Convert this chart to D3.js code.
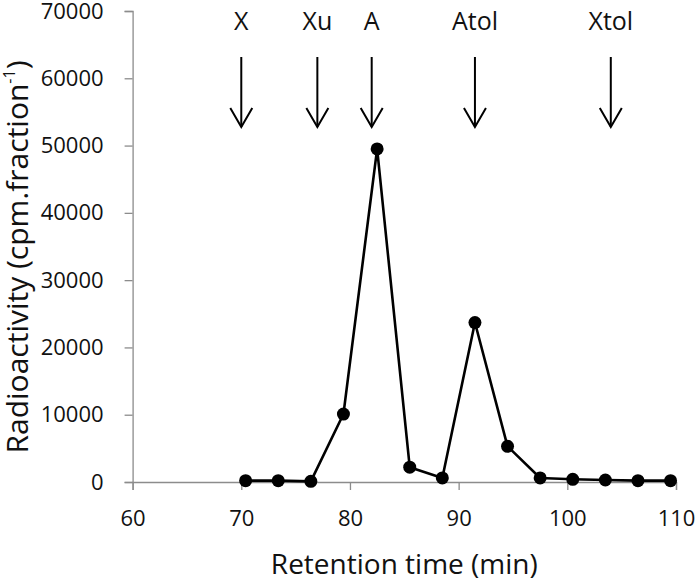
<!DOCTYPE html>
<html>
<head>
<meta charset="utf-8">
<script src="https://cdn.jsdelivr.net/npm/d3@7"></script>
<style>
  body { margin: 0; background: #fff; }
  svg { display: block; font-family: "Open Sans", sans-serif; }
</style>
</head>
<body>
<svg width="700" height="581"></svg>
<script>
// retention time (min) and radioactivity (cpm per fraction)
var times = [70.4, 73.4, 76.4, 79.4, 82.5, 85.5, 88.5, 91.5, 94.5, 97.5, 100.5, 103.5, 106.5, 109.5];
var counts = [200, 200, 100, 10100, 49500, 2200, 600, 23700, 5300, 600, 400, 300, 200, 200];

// standards marked with arrows
var markerNames = ["X", "Xu", "A", "Atol", "Xtol"];
var markerTimes = [70, 77, 82, 91.5, 104];

var xTicks = [60, 70, 80, 90, 100, 110];
var yTicks = [0, 10000, 20000, 30000, 40000, 50000, 60000, 70000];

var svg = d3.select("svg");

var x = d3.scaleLinear().domain([60, 110]).range([132.6, 676]),
    y = d3.scaleLinear().domain([0, 70000]).range([482, 11]);

var axisColor = "#8c8c8c";
var fontFam = "'Open Sans', sans-serif";

// y axis
var gy = svg.append("g")
  .attr("transform", "translate(" + x(60) + ",0)")
  .call(d3.axisLeft(y).tickValues(yTicks).tickFormat(d3.format("d")).tickSizeOuter(0).tickSize(8).tickPadding(21));
gy.select(".domain").attr("stroke", axisColor).attr("stroke-width", 1.3);
gy.selectAll(".tick line").attr("stroke", axisColor).attr("stroke-width", 1.3);
gy.selectAll(".tick text").attr("font-size", 22).attr("fill", "#111").attr("font-family", fontFam);

// x axis
var gx = svg.append("g")
  .attr("transform", "translate(0," + y(0) + ")")
  .call(d3.axisBottom(x).tickValues(xTicks).tickSizeOuter(0).tickSize(8).tickPadding(20));
gx.select(".domain").attr("stroke", axisColor).attr("stroke-width", 1.3);
gx.selectAll(".tick line").attr("stroke", axisColor).attr("stroke-width", 1.3);
gx.selectAll(".tick text").attr("font-size", 22).attr("fill", "#111").attr("font-family", fontFam);

// axis titles
svg.append("text")
  .attr("x", (x(60) + x(110)) / 2)
  .attr("y", 574)
  .attr("text-anchor", "middle")
  .attr("font-size", 28)
  .attr("fill", "#111")
  .text("Retention time (min)");

var yt = svg.append("text")
  .attr("transform", "translate(28,257) rotate(-90)")
  .attr("text-anchor", "middle")
  .attr("font-size", 30)
  .attr("fill", "#111");
yt.append("tspan").text("Radioactivity (cpm.fraction");
yt.append("tspan").attr("font-size", 16).attr("dy", -13).text("-1");
yt.append("tspan").attr("dy", 13).text(")");

// data line and points
var line = d3.line()
  .x(function(d, i) { return x(times[i]); })
  .y(function(d) { return y(d); });

svg.append("path")
  .datum(counts)
  .attr("fill", "none")
  .attr("stroke", "#000")
  .attr("stroke-width", 2.6)
  .attr("stroke-linejoin", "round")
  .attr("d", line);

svg.selectAll(".pt")
  .data(counts)
  .enter().append("circle")
  .attr("class", "pt")
  .attr("cx", function(d, i) { return x(times[i]); })
  .attr("cy", function(d) { return y(d); })
  .attr("r", 6.5)
  .attr("fill", "#000");

// standard arrows
var marks = svg.selectAll(".mark")
  .data(markerNames)
  .enter().append("g")
  .attr("class", "mark")
  .attr("transform", function(d, i) { return "translate(" + x(markerTimes[i]) + ",0)"; });

marks.append("text")
  .attr("y", 30)
  .attr("text-anchor", "middle")
  .attr("font-size", 25)
  .attr("fill", "#111")
  .text(function(d) { return d; });

marks.append("line")
  .attr("x1", 0).attr("x2", 0)
  .attr("y1", 57).attr("y2", 127)
  .attr("stroke", "#000").attr("stroke-width", 2);

marks.append("path")
  .attr("d", "M-11,108 L0,127 L11,108")
  .attr("fill", "none")
  .attr("stroke", "#000")
  .attr("stroke-width", 2);
</script>
</body>
</html>
